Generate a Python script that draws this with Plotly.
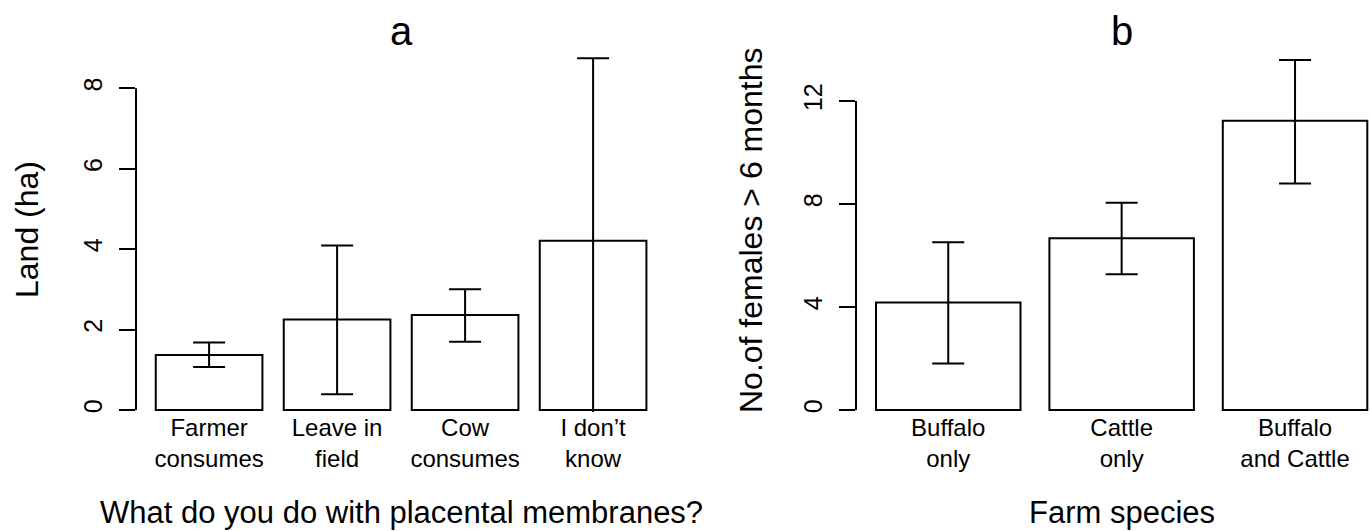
import plotly.graph_objects as go

# ---- data ----
cats_a = ["Farmer<br>consumes", "Leave in<br>field", "Cow<br>consumes", "I don’t<br>know"]
land_mean = [1.37, 2.25, 2.36, 4.21]
land_upper = [1.68, 4.09, 3.00, 8.75]
land_lower = [1.07, 0.39, 1.70, -0.33]
ticks_a = [0, 2, 4, 6, 8]

cats_b = ["Buffalo<br>only", "Cattle<br>only", "Buffalo<br>and Cattle"]
fem_mean = [4.17, 6.67, 11.23]
fem_upper = [6.51, 8.05, 13.59]
fem_lower = [1.81, 5.27, 8.80]
ticks_b = [0, 4, 8, 12]

title_a = "a"
title_b = "b"
xlab_a = "What do you do with placental membranes?"
xlab_b = "Farm species"
ylab_a = "Land (ha)"
ylab_b = "No.of females > 6 months"

W, H = 1371, 531
FONT = "Liberation Sans, Arial, Helvetica, sans-serif"

def px(x):
    return x / W

def py(y):
    return 1 - y / H

fig = go.Figure()

def add_bars(cats, mean, upper, lower, xa, ya):
    fig.add_trace(go.Bar(
        x=cats, y=mean, xaxis=xa, yaxis=ya,
        marker=dict(color="white", line=dict(color="black", width=2)),
        error_y=dict(type="data", symmetric=False,
                     array=[u - m for u, m in zip(upper, mean)],
                     arrayminus=[m - l for m, l in zip(mean, lower)],
                     color="black", thickness=2, width=16),
        showlegend=False, hoverinfo="skip",
    ))

add_bars(cats_a, land_mean, land_upper, land_lower, "x", "y")
add_bars(cats_b, fem_mean, fem_upper, fem_lower, "x2", "y2")

ydom = [py(412), 1]
common_x = dict(showline=False, showgrid=False, zeroline=False, ticks="",
                tickfont=dict(family=FONT, size=24, color="black"), tickangle=0,
                ticklabelstandoff=-1)
common_y = dict(showline=False, showgrid=False, zeroline=False, ticks="outside",
                ticklen=16, tickwidth=2, tickcolor="black", tickangle=-90,
                tickfont=dict(family=FONT, size=25, color="black"),
                ticklabelstandoff=7, domain=ydom)

fig.update_layout(
    width=W, height=H, margin=dict(l=0, r=0, t=0, b=0),
    paper_bgcolor="white", plot_bgcolor="white", bargap=1/6,
    xaxis=dict(common_x, domain=[px(136), px(680)], range=[-0.571, 3.679], anchor="y"),
    yaxis=dict(common_y, range=[-2/40.21, 410/40.21], tickvals=ticks_a,
               ticktext=[str(t) for t in ticks_a], anchor="x"),
    xaxis2=dict(common_x, domain=[px(856), 1], range=[-0.532, 2.438], anchor="y2"),
    yaxis2=dict(common_y, range=[-2/25.75, 410/25.75], tickvals=ticks_b,
                ticktext=[str(t) for t in ticks_b], anchor="x2"),
)

# R-style axis lines spanning first to last tick
for xr, yr, tv in (("x domain", "y", ticks_a), ("x2 domain", "y2", ticks_b)):
    fig.add_shape(type="line", xref=xr, yref=yr, x0=0, x1=0, y0=tv[0], y1=tv[-1],
                  line=dict(color="black", width=2), layer="above")

def ann(text, x, y, size, angle=0):
    fig.add_annotation(text=text, xref="paper", yref="paper", x=px(x), y=py(y),
                       xanchor="center", yanchor="middle", showarrow=False,
                       textangle=angle, font=dict(family=FONT, size=size, color="black"))

ann(title_a, 401, 31, 40)
ann(title_b, 1122, 31, 40)
ann(xlab_a, 401, 512, 31)
ann(xlab_b, 1122, 512, 31)
ann(ylab_a, 27, 230, 32, -90)
ann(ylab_b, 751, 230, 32, -90)

fig.write_html("out.html",
               config={"displayModeBar": False},
               post_script="document.documentElement.style.overflow='hidden';"
                           "document.body.style.overflow='hidden';"
                           "document.body.style.margin='0';")
